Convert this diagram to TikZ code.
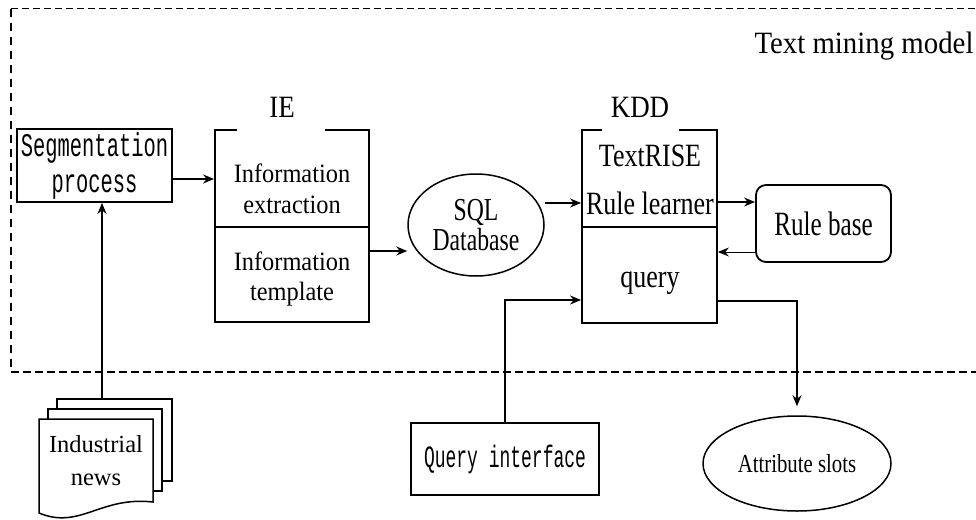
\documentclass[tikz,border=0pt]{standalone}
\usepackage{fontspec}
\setmainfont{Liberation Serif}
\newfontfamily\fA[FakeStretch=0.93]{Liberation Serif}
\newfontfamily\fB[FakeStretch=0.87]{Liberation Serif}
\newfontfamily\fE[FakeStretch=0.8]{Liberation Serif}
\newfontfamily\fF[FakeStretch=0.92]{Liberation Serif}
\newfontfamily\fC[FakeStretch=0.8]{Liberation Serif}
\newfontfamily\fD[FakeStretch=0.74]{Liberation Serif}
\newfontfamily\fM[FakeStretch=0.62]{Liberation Mono}
\newfontfamily\fN[FakeStretch=0.58]{Liberation Mono}
\usetikzlibrary{arrows.meta,shapes.geometric}
\newcommand\fsz[2]{\fontsize{#1}{#2}\selectfont}
\begin{document}
\begin{tikzpicture}[x=1pt,y=-1pt,
  box/.style={draw,line width=1.8pt,inner sep=0pt},
  oval/.style={draw,ellipse,line width=1.5pt,inner sep=0pt,align=center},
  txt/.style={align=center,inner sep=0pt},
  arr/.style={line width=1.6pt,-{Stealth[length=11pt,width=9pt]}},
  sheet/.style={line width=1.5pt,fill=white},
]
\useasboundingbox (0,0) rectangle (976,519);
% dashed frame
\draw[line width=1pt,dash pattern=on 7pt off 4pt] (11,9) -- (976,9);
\draw[line width=1.8pt,dash pattern=on 8pt off 6pt] (11,9) -- (11,372);
\draw[line width=2.7pt,dash pattern=on 8pt off 4pt] (11,372) -- (976,372);

\node[txt,anchor=base,font=\fA\fsz{31}{31}] (tm) at (864,53) {Text mining model};
\node[txt,anchor=base,font=\fB\fsz{31}{31}] (ielab) at (282,117) {IE};
\node[txt,anchor=base,font=\fB\fsz{31}{31}] (kddlab) at (640,117) {KDD};

% segmentation
\node[box,minimum width=155pt,minimum height=73pt,align=center,font=\fM\fsz{33}{36}] (seg) at (94.5,165.5) {Segmentation\\process};

% IE box
\node[box,minimum width=154pt,minimum height=192pt] (ie) at (292,226) {};
\draw[line width=1.8pt] (ie.west |- 0,227) -- (ie.east |- 0,227);
\draw[white,line width=3pt] (237,130) -- (325,130);
\node[txt,font=\fF\fsz{26.5}{31}] (ie1) at (292,188.5) {Information\\extraction};
\node[txt,font=\fF\fsz{26.5}{30}] (ie2) at (292,279) {Information\\template};

% SQL
\node[oval,minimum width=136pt,minimum height=102pt,font=\fD\fsz{32}{30}] (sql) at (476,225) {SQL\\Database};

% KDD box
\node[box,minimum width=135pt,minimum height=193pt] (kdd) at (649.5,226.5) {};
\draw[line width=1.8pt] (kdd.west |- 0,227) -- (kdd.east |- 0,227);
\draw[white,line width=3pt] (602,130) -- (679,130);
\node[txt,font=\fC\fsz{32.5}{48}] (kdd1) at (650,180) {TextRISE\\Rule learner};
\node[txt,font=\fC\fsz{32.5}{32}] (kdd2) at (650,283) {query};

% Rule base
\node[box,rounded corners=10pt,minimum width=135pt,minimum height=77pt,font=\fD\fsz{34}{34}] (rb) at (823.5,223.5) {Rule base};

% Query interface
\node[box,minimum width=188pt,minimum height=72pt,font=\fN\fsz{31}{31}] (qi) at (505,459) {Query interface};

% Attribute slots
\node[oval,minimum width=188pt,minimum height=95pt,font=\fE\fsz{26}{26}] (attr) at (797,463.5) {Attribute slots};

% Industrial news (multi-document)
\draw[sheet] (57,399) rectangle (172,481);
\draw[sheet] (48,409) rectangle (162,491);
\draw[sheet] (39,419) -- (153,419) -- (153,502) .. controls (100,496) and (80,530) .. (39,513) -- cycle;
\node[txt,font=\fsz{24.5}{33}] (news) at (96,461) {Industrial\\news};
\coordinate (newsTop) at (102,399);

% connectors
\draw[arr] (newsTop) -- (newsTop |- seg.south);
\draw[arr] (seg.east |- 0,179) -- (ie.west |- 0,179);
\draw[arr] (ie.east |- 0,251) -- (sql.west |- 0,251);
\draw[arr] (sql.east |- 0,203) -- (kdd.west |- 0,203);
\draw[arr] (kdd.east |- 0,202) -- (rb.west |- 0,202);
\draw[arr,line width=1pt] (rb.west |- 0,252) -- (kdd.east |- 0,252);
\draw[arr] (qi.north) |- (kdd.west |- 0,300);
\draw[arr] (kdd.east |- 0,301) -| ([yshift=9pt]attr.north);
\end{tikzpicture}
\end{document}
